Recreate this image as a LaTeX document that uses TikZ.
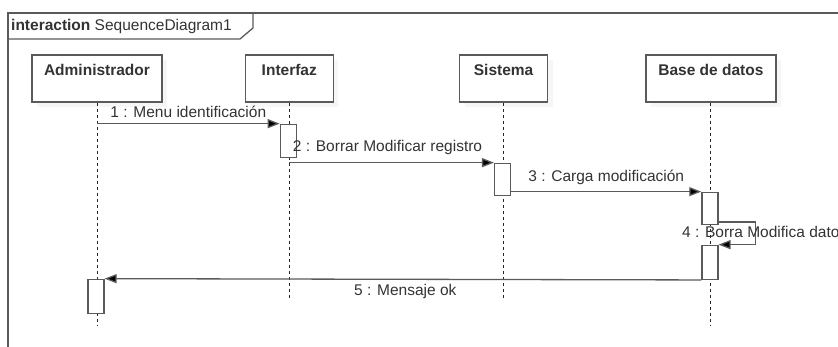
\documentclass[tikz,border=0pt]{standalone}
\usepackage{fontspec}
\setmainfont{Liberation Sans}
\usetikzlibrary{positioning, arrows.meta, shadows, calc}

\definecolor{linegray}{HTML}{5A5A5A}
\definecolor{textgray}{HTML}{333333}

\tikzset{
    head/.style={draw=linegray, line width=1.3pt, fill=white, text=textgray, font=\fontsize{15.5}{18}\selectfont\bfseries,
        minimum height=47pt, inner ysep=0pt, text height=20.5pt, text depth=26.5pt,
        drop shadow={shadow xshift=5pt, shadow yshift=-5pt, fill=black!7}},
    act/.style={draw=linegray, line width=1.3pt, fill=white, minimum width=16pt, inner sep=0pt, anchor=north},
    life/.style={draw=black!85, line width=0.9pt, dash pattern=on 3pt off 3pt},
    msg/.style={draw=linegray, line width=1.3pt, -{Triangle[length=12pt, width=9pt, fill=black]}},
    lbl/.style={text=textgray, inner sep=1pt}
}

\begin{document}
\begin{tikzpicture}[x=1pt, y=-1pt, font=\fontsize{15.5}{18}\selectfont]
        \useasboundingbox (0,0) rectangle (838,347);
        % frame
        \draw[linegray, line width=1.3pt] (8,360) -- (8,13) -- (850,13);
        \draw[linegray, line width=1.3pt] (8,39) -- (240,39) -- (253,28) -- (253,13);
        \node[lbl, anchor=west] (tag) at (10,26) {\textbf{interaction} SequenceDiagram1};
        %---------------------------
        \node[head, minimum width=130pt] (admin) at (97,78.5) {Administrador};
        \node[head, minimum width=88pt, right=82pt of admin] (interfaz) {Interfaz};
        \node[head, minimum width=88pt, right=125pt of interfaz] (sistema) {Sistema};
        \node[head, minimum width=130pt, right=97pt of sistema] (bd) {Base de datos};
        % lifelines
        \draw[life] (admin.south) -- ++(0,223) coordinate (adminEnd);
        \draw[life] (interfaz.south) -- ++(0,195) coordinate (interfazEnd);
        \draw[life] (sistema.south) -- ++(0,195) coordinate (sistemaEnd);
        \draw[life] (bd.south) -- ++(0,223) coordinate (bdEnd);
        % activations
        \node[act, minimum height=33pt, below=21pt of interfaz.south, xshift=-1pt] (act1) {};
        \node[act, minimum height=32pt, below=60pt of sistema.south, xshift=-1pt] (act2) {};
        \node[act, minimum height=32pt, below=89pt of bd.south, xshift=-1pt] (act3) {};
        \node[act, minimum height=34pt, below=142pt of bd.south, xshift=-1pt] (act4) {};
        \node[act, minimum height=34pt, below=176pt of admin.south, xshift=-1pt] (act5) {};
        %--------------------------
        \draw[msg] (admin.south |- act1.north west) -- node[lbl, above=4pt, pos=0.5] (lbl1) {1 : Menu identificación} (act1.north west);
        \draw[msg] (interfaz.south |- act2.north west) -- node[lbl, above=6pt, pos=0.48] (lbl2) {2 : Borrar Modificar registro} (act2.north west);
        \draw[msg] ($(act2.east |- act3.north)$) -- node[lbl, above=5pt, pos=0.5] (lbl3) {3 : Carga modificación} (act3.north west);
        \draw[msg] ($(act3.south east)+(0,-3)$) -- ++(37,0) |- (act4.north east);
        \node[lbl, anchor=west] (lbl4) at ($(act4.north)+(-29,-13)$) {4 : Borra Modifica datos};
        \draw[msg] (act4.south west) -- node[lbl, below=3pt, pos=0.496] (lbl5) {5 : Mensaje ok} (act5.north east);
\end{tikzpicture}
\end{document}
